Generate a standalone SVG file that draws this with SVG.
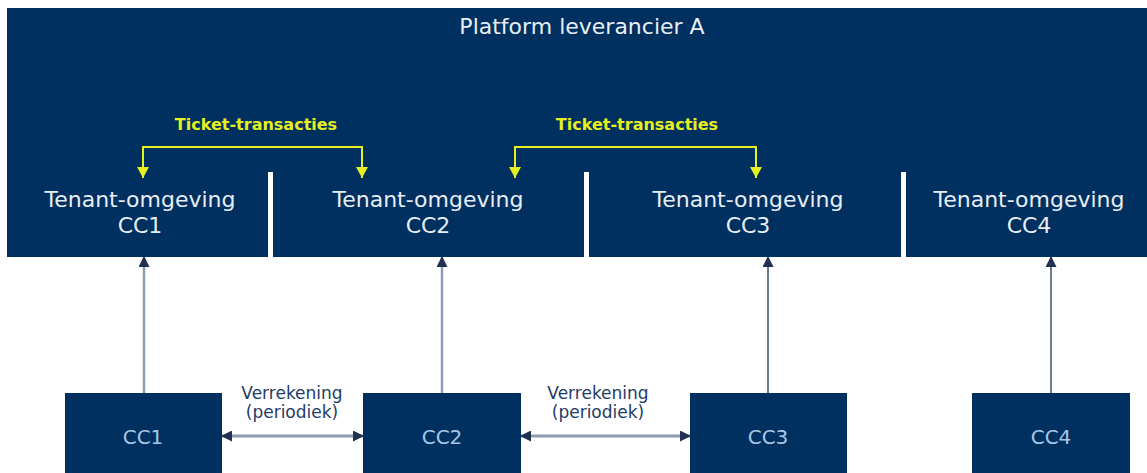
<svg xmlns="http://www.w3.org/2000/svg" width="1147" height="473" viewBox="0 0 1147 473">
<style>
.navy{fill:#00305f}
.t{font-family:"DejaVu Sans",Verdana,sans-serif;text-anchor:middle}
.w{fill:#e8eef5;font-size:22px}
.y{fill:#e6f020;font-size:16px;font-weight:bold}
.lbl{fill:#1f3b66;font-size:17px}
.bx{fill:#a6c8e6;font-size:20px}
.sep{fill:#ffffff}
.up{stroke:#8c9bb0;stroke-width:2.5;fill:none}
.up2{stroke:#3c4f6e;stroke-width:1.5;fill:none}
.yl{stroke:#e6f020;stroke-width:2;fill:none}
.hz{stroke:#8c9bb0;stroke-width:3;fill:none}
</style>
<defs>
<marker id="ah" markerWidth="11" markerHeight="11" refX="10" refY="5.5" orient="auto-start-reverse" markerUnits="userSpaceOnUse"><path d="M0,0 L11,5.5 L0,11 z" fill="#1f3050"/></marker>
<marker id="ay" markerWidth="12" markerHeight="12" refX="11" refY="6" orient="auto-start-reverse" markerUnits="userSpaceOnUse"><path d="M0,0 L11,6 L0,12 z" fill="#e6f020"/></marker>
</defs>
<rect width="1147" height="473" fill="#ffffff"/>
<g id="platform">
<rect class="navy" x="7" y="8" width="1140" height="249"/>
<rect class="sep" x="268" y="172" width="5" height="86"/>
<rect class="sep" x="584" y="172" width="5" height="86"/>
<rect class="sep" x="901" y="172" width="5" height="86"/>
<text class="t w" x="582" y="34">Platform leverancier A</text>
</g>
<g id="tenant1"><text class="t w" x="140" y="207">Tenant-omgeving</text><text class="t w" x="140" y="233">CC1</text></g>
<g id="tenant2"><text class="t w" x="428" y="207">Tenant-omgeving</text><text class="t w" x="428" y="233">CC2</text></g>
<g id="tenant3"><text class="t w" x="748" y="207">Tenant-omgeving</text><text class="t w" x="748" y="233">CC3</text></g>
<g id="tenant4"><text class="t w" x="1029" y="207">Tenant-omgeving</text><text class="t w" x="1029" y="233">CC4</text></g>
<g id="cc1"><rect class="navy" x="65" y="393" width="157" height="80"/><text class="t bx" x="143" y="444">CC1</text></g>
<g id="cc2"><rect class="navy" x="363" y="393" width="158" height="80"/><text class="t bx" x="442" y="444">CC2</text></g>
<g id="cc3"><rect class="navy" x="690" y="393" width="157" height="80"/><text class="t bx" x="768" y="444">CC3</text></g>
<g id="cc4"><rect class="navy" x="972" y="393" width="158" height="80"/><text class="t bx" x="1051" y="444">CC4</text></g>
<g id="connectors">
<path class="yl" d="M143,178 V147 H362 V178" marker-start="url(#ay)" marker-end="url(#ay)"/>
<text class="t y" x="256" y="130">Ticket-transacties</text>
<path class="yl" d="M515,178 V147 H756 V178" marker-start="url(#ay)" marker-end="url(#ay)"/>
<text class="t y" x="637" y="130">Ticket-transacties</text>
<line class="up" x1="144" y1="393" x2="144" y2="257" marker-end="url(#ah)"/>
<line class="up" x1="442" y1="393" x2="442" y2="257" marker-end="url(#ah)"/>
<line class="up2" x1="768" y1="393" x2="768" y2="257" marker-end="url(#ah)"/>
<line class="up2" x1="1051" y1="393" x2="1051" y2="257" marker-end="url(#ah)"/>
<line class="hz" x1="222" y1="436" x2="363" y2="436" marker-start="url(#ah)" marker-end="url(#ah)"/>
<line class="hz" x1="521" y1="436" x2="690" y2="436" marker-start="url(#ah)" marker-end="url(#ah)"/>
<text class="t lbl" x="292" y="399">Verrekening</text>
<text class="t lbl" x="292" y="418">(periodiek)</text>
<text class="t lbl" x="598" y="399">Verrekening</text>
<text class="t lbl" x="598" y="418">(periodiek)</text>
</g>
</svg>
